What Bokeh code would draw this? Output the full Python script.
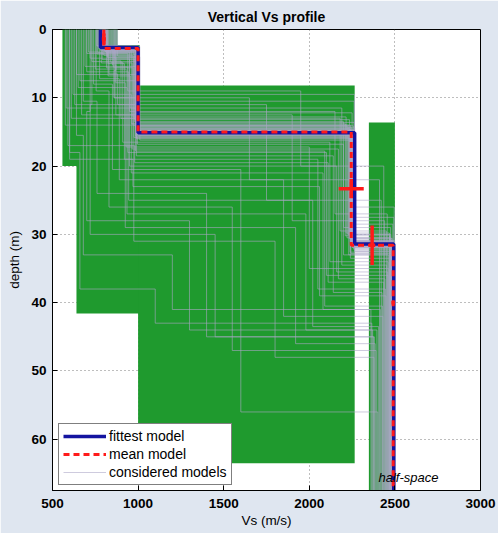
from bokeh.plotting import figure
from bokeh.models import FixedTicker, Legend, LegendItem, Range1d, Label
from bokeh.embed import file_html
from bokeh.resources import INLINE

# ---- data ----
x_ticks = [500, 1000, 1500, 2000, 2500, 3000]
y_ticks = [0, 10, 20, 30, 40, 50, 60]
depth_max = 67.5

# search-space rectangles (Vs range x depth range)
box_vs_min = [558, 640, 1000, 2348]
box_vs_max = [880, 1010, 2265, 2500]
box_z_top = [0.0, 2.3, 8.2, 13.6]
box_z_bot = [20.0, 41.6, 63.5, 70.0]

# considered models: layer Vs and layer bottom depths
m_v1 = [790, 805, 760, 820, 850, 700, 780, 830, 810, 770, 740, 860, 795, 815, 680, 750, 835, 800, 775, 845,
        720, 865, 790, 810, 640, 825, 760, 785, 870, 805, 600, 840, 795, 755, 815, 780, 730, 855, 800, 820,
        785, 795, 810, 775, 800, 765, 820, 790, 805, 780, 815, 770, 795, 800, 825, 760, 790, 810, 785, 805,
        575, 620, 660, 700, 590, 610, 650, 690, 730, 880, 870, 860, 600, 630, 670, 710, 580, 640, 720, 875]
m_z1 = [2.7, 3.1, 2.4, 4.0, 5.2, 3.5, 2.9, 6.5, 3.3, 2.6, 8.0, 4.6, 2.8, 3.0, 10.5, 5.8, 2.5, 3.8, 7.2, 2.6,
        12.0, 4.3, 3.0, 2.9, 15.5, 5.0, 3.6, 2.7, 6.0, 3.2, 18.0, 4.8, 2.8, 9.0, 3.4, 2.6, 11.0, 5.5, 3.0, 4.1,
        2.6, 2.8, 3.0, 2.5, 2.7, 3.4, 2.9, 4.4, 2.6, 3.1, 5.6, 2.8, 3.2, 2.7, 6.8, 2.4, 3.6, 2.9, 4.9, 2.7,
        14.0, 9.5, 7.5, 6.2, 17.0, 13.0, 8.5, 5.4, 4.7, 3.9, 7.8, 10.0, 19.0, 11.0, 12.5, 3.3, 11.5, 6.6, 4.2, 2.5]
m_v2 = [1000, 990, 960, 1010, 870, 940, 1005, 880, 995, 975, 850, 900, 1000, 985, 760, 930, 1010, 970, 890, 1000,
        700, 950, 995, 1005, 680, 920, 980, 1000, 860, 990, 660, 910, 1000, 830, 995, 1005, 720, 940, 985, 1000,
        1000, 1005, 995, 990, 1000, 980, 1008, 985, 1000, 995, 970, 1002, 990, 1000, 955, 998, 1006, 992, 965, 1000,
        990, 960, 1000, 945, 980, 1004, 935, 996, 1000, 988, 925, 1000, 970, 990, 1003, 950, 985, 1000, 975, 1000]
m_z2 = [15.0, 14.6, 13.8, 16.2, 12.5, 18.0, 15.3, 11.0, 14.9, 15.8, 20.5, 13.0, 15.1, 14.3, 24.0, 17.2, 15.5, 14.0, 22.0, 15.0,
        28.0, 12.0, 14.7, 15.2, 33.0, 19.0, 13.5, 15.0, 10.0, 14.8, 38.0, 16.5, 15.4, 26.0, 14.5, 15.1, 30.0, 9.0, 15.6, 14.2,
        14.8, 15.2, 15.0, 14.4, 15.5, 13.2, 15.0, 14.0, 15.7, 14.9, 12.8, 15.3, 16.0, 14.6, 11.5, 15.1, 14.9, 15.4, 17.5, 15.0,
        18.5, 21.0, 14.0, 25.0, 19.5, 13.6, 27.0, 16.8, 12.2, 15.2, 29.0, 10.5, 23.0, 15.9, 14.1, 20.0, 17.8, 9.5, 31.0, 15.0]
m_v3 = [2255, 2240, 2210, 2265, 1900, 2100, 2260, 1750, 2250, 2230, 1600, 2180, 2255, 2245, 1400, 2000, 2265, 2220, 1850, 2250,
        1300, 2150, 2260, 2240, 1200, 2050, 2200, 2255, 1650, 2245, 1100, 2120, 2260, 1550, 2235, 2250, 1450, 1950, 2265, 2225,
        2260, 2250, 2245, 2265, 2255, 2235, 2262, 2240, 2258, 2252, 2215, 2264, 2248, 2256, 2190, 2261, 2243, 2254, 2170, 2259,
        2140, 2080, 2230, 2020, 2110, 2263, 1980, 2200, 2250, 2246, 1920, 2262, 2060, 2238, 2257, 2160, 2090, 2264, 1800, 2252]
m_z3 = [31.5, 31.0, 30.2, 32.5, 28.0, 36.0, 31.8, 25.0, 31.2, 33.0, 56.0, 29.5, 31.6, 30.8, 45.0, 35.0, 32.0, 30.5, 42.0, 31.4,
        44.0, 27.0, 31.0, 31.7, 41.0, 38.0, 29.0, 31.5, 22.0, 31.3, 43.0, 34.0, 32.2, 47.0, 30.6, 31.9, 45.0, 20.0, 31.5, 30.0,
        31.4, 31.8, 31.2, 31.0, 32.0, 30.5, 31.6, 33.5, 31.3, 31.7, 29.8, 32.4, 31.1, 31.5, 34.5, 30.9, 32.8, 31.4, 36.5, 31.6,
        38.5, 41.0, 30.0, 43.5, 37.0, 31.9, 44.0, 33.0, 28.5, 31.2, 46.0, 27.5, 39.0, 32.6, 31.5, 35.5, 40.5, 26.0, 48.0, 31.0]
m_v4 = [2490, 2480, 2470, 2500, 2440, 2460, 2495, 2420, 2485, 2475, 2400, 2450, 2490, 2480, 2380, 2465, 2500, 2470, 2430, 2490,
        2370, 2455, 2495, 2485, 2360, 2445, 2475, 2490, 2410, 2480, 2365, 2460, 2495, 2390, 2485, 2490, 2375, 2435, 2500, 2470,
        2492, 2488, 2495, 2485, 2490, 2478, 2498, 2482, 2490, 2494, 2468, 2496, 2486, 2491, 2452, 2499, 2484, 2489, 2442, 2493,
        2425, 2415, 2476, 2405, 2435, 2497, 2395, 2462, 2488, 2481, 2385, 2494, 2448, 2487, 2492, 2458, 2428, 2496, 2378, 2489]

# fittest and mean models
fit_vs = [780, 1000, 2265, 2493]
fit_z = [2.65, 15.1, 31.4]
mean_vs = [800, 1000, 2245, 2490]
mean_z = [2.8, 15.0, 31.6]

# error crosses (centre and half-widths)
err_vs = [800, 2245, 2367, 2490]
err_z = [1.4, 23.3, 31.6, 40.0]
err_dvs = [12, 73, 18, 10]
err_dz = [0.8, 1.4, 2.9, 0.0]


def step(vs, z, zmax):
    xs, ys = [], []
    tops = [0.0] + list(z)
    bots = list(z) + [zmax]
    for v, t, b in zip(vs, tops, bots):
        xs += [v, v]
        ys += [t, b]
    return xs, ys


FONT = "Liberation Sans"

p = figure(width=498, height=533, x_range=Range1d(500, 3000), y_range=Range1d(depth_max, 0),
           output_backend="svg", toolbar_location=None, title="Vertical Vs profile",
           min_border_left=52, min_border_right=18, min_border_top=29, min_border_bottom=43)
p.background_fill_color = "white"
p.border_fill_color = "#dfe6f0"
p.outline_line_color = "black"
p.outline_line_width = 1

p.title.align = "center"
p.title.text_font = FONT
p.title.text_font_size = "14px"
p.title.text_font_style = "bold"
p.title.text_color = "black"

for ax in (p.xaxis[0], p.yaxis[0]):
    ax.major_label_text_font = FONT
    ax.major_label_text_font_size = "13.5px"
    ax.major_label_text_font_style = "bold"
    ax.major_label_text_color = "black"
    ax.axis_label_text_font = FONT
    ax.axis_label_text_font_size = "13.5px"
    ax.axis_label_text_font_style = "normal"
    ax.axis_label_text_color = "black"
    ax.major_tick_in = 5
    ax.major_tick_out = 0
    ax.minor_tick_line_color = None
    ax.axis_line_color = "black"
    ax.major_tick_line_color = "black"

p.xaxis[0].ticker = FixedTicker(ticks=x_ticks)
p.yaxis[0].ticker = FixedTicker(ticks=y_ticks)
p.xaxis[0].axis_label = "Vs (m/s)"
p.yaxis[0].axis_label = "depth (m)"
p.xaxis[0].axis_label_standoff = 2
p.yaxis[0].axis_label_standoff = 6
p.xaxis[0].major_label_standoff = 8
p.yaxis[0].major_label_standoff = 6

for g in (p.xgrid[0], p.ygrid[0]):
    g.grid_line_color = "#444444"
    g.grid_line_dash = "1 3"
    g.grid_line_alpha = 0.7
p.xgrid[0].ticker = FixedTicker(ticks=x_ticks)
p.ygrid[0].ticker = FixedTicker(ticks=y_ticks)

# search-space boxes
p.quad(left=box_vs_min, right=box_vs_max, top=box_z_top, bottom=box_z_bot,
       fill_color="#1f9a2e", line_color=None)

p.add_layout(Label(x=2404, y=65.6, text="half-space", text_font=FONT, text_font_size="13px",
                   text_font_style="italic", text_color="black", text_baseline="middle"))

# considered models
xs_all, ys_all = [], []
for a in zip(m_v1, m_z1, m_v2, m_z2, m_v3, m_z3, m_v4):
    xs, ys = step([a[0], a[2], a[4], a[6]], [a[1], a[3], a[5]], 70)
    xs_all.append(xs)
    ys_all.append(ys)
r_cons = p.multi_line(xs_all, ys_all, line_color="#aca7c8", line_width=0.7, line_alpha=0.85)

fx, fy = step(fit_vs, fit_z, 70)
r_fit = p.line(fx, fy, line_color="#1414a0", line_width=3.5)
mx, my = step(mean_vs, mean_z, 70)
r_mean = p.line(mx, my, line_color="#ff1a1a", line_width=3, line_dash="6 4")

# error crosses
p.segment(x0=[v - d for v, d in zip(err_vs, err_dvs)], x1=[v + d for v, d in zip(err_vs, err_dvs)],
          y0=err_z, y1=err_z, line_color="#ff1a1a", line_width=3.5)
p.segment(x0=err_vs, x1=err_vs, y0=[z - d for z, d in zip(err_z, err_dz)],
          y1=[z + d for z, d in zip(err_z, err_dz)], line_color="#ff1a1a", line_width=3.5)

legend = Legend(items=[LegendItem(label="fittest model", renderers=[r_fit]),
                       LegendItem(label="mean model", renderers=[r_mean]),
                       LegendItem(label="considered models", renderers=[r_cons])],
                location=(6, 5), orientation="vertical")
legend.label_text_font = FONT
legend.label_text_font_size = "14px"
legend.label_text_color = "black"
legend.glyph_width = 43
legend.glyph_height = 16
legend.spacing = 2
legend.padding = 4
legend.margin = 0
legend.label_standoff = 3
legend.border_line_color = "black"
legend.border_line_width = 1
legend.background_fill_color = "white"
legend.background_fill_alpha = 1
p.add_layout(legend)

open("out.html", "w").write(file_html(p, INLINE))
